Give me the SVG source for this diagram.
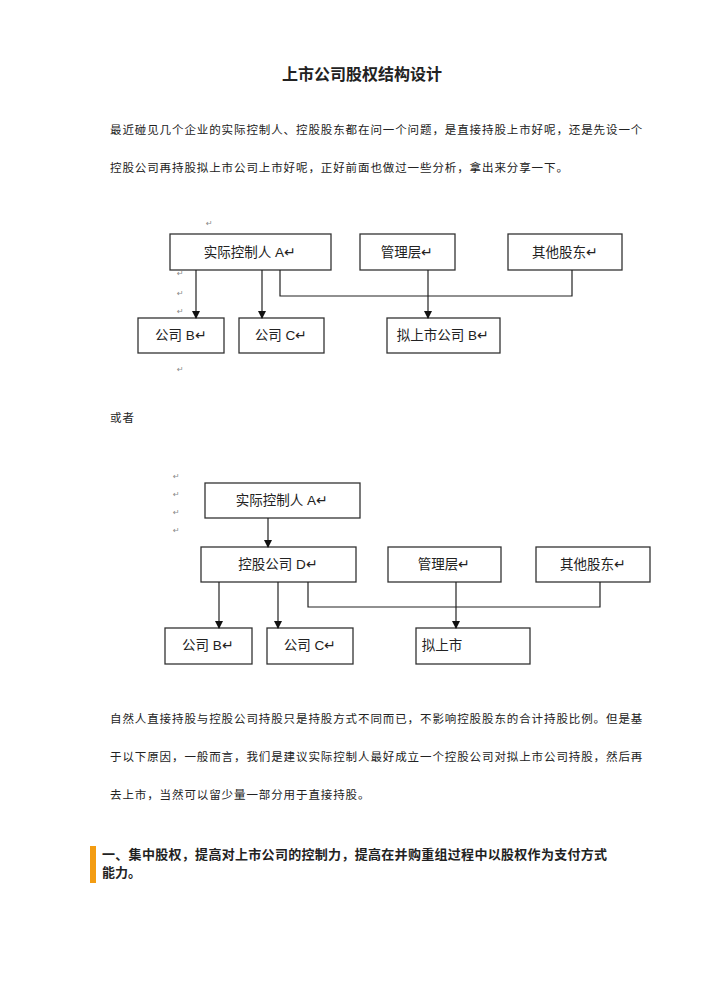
<svg xmlns="http://www.w3.org/2000/svg" width="725" height="990" viewBox="0 0 725 990">
<style>
.t{font-family:"Liberation Sans","Noto Sans CJK SC",sans-serif;fill:#222}
.p{font-size:11.5px;letter-spacing:0.9px}
.n{font-size:13.5px;text-anchor:middle}
.r{font-family:"DejaVu Sans",sans-serif;font-size:8px;fill:#888}
.b{fill:#fff;stroke:#333;stroke-width:1.3}
.c{fill:none;stroke:#222;stroke-width:1.2}
</style>
<defs><marker id="ah" markerWidth="8" markerHeight="8" refX="7" refY="4" orient="auto" markerUnits="userSpaceOnUse"><path d="M0,0L8,4L0,8Z" fill="#111"/></marker></defs>
<rect width="725" height="990" fill="#fff"/>
<text class="t" x="362" y="80" font-size="16" font-weight="bold" text-anchor="middle">上市公司股权结构设计</text>
<text class="t p" x="110" y="134">最近碰见几个企业的实际控制人、控股股东都在问一个问题，是直接持股上市好呢，还是先设一个</text>
<text class="t p" x="110" y="172">控股公司再持股拟上市公司上市好呢，正好前面也做过一些分析，拿出来分享一下。</text>
<g id="d1">
<text class="r" x="206" y="226">↵</text><text class="r" x="177" y="276">↵</text><text class="r" x="177" y="296">↵</text><text class="r" x="177" y="314">↵</text><text class="r" x="177" y="372">↵</text>
<g id="a1"><rect class="b" x="170" y="234" width="161" height="36"/><text class="t n" x="250" y="257">实际控制人 A↵</text></g>
<g id="m1"><rect class="b" x="360" y="234" width="95" height="36"/><text class="t n" x="407" y="257">管理层↵</text></g>
<g id="o1"><rect class="b" x="508" y="234" width="114" height="36"/><text class="t n" x="565" y="257">其他股东↵</text></g>
<g id="b1"><rect class="b" x="138" y="318" width="86" height="35"/><text class="t n" x="181" y="340">公司 B↵</text></g>
<g id="c1"><rect class="b" x="239" y="318" width="85" height="35"/><text class="t n" x="281" y="340">公司 C↵</text></g>
<g id="l1"><rect class="b" x="387" y="318" width="113" height="35"/><text class="t n" x="443" y="340">拟上市公司 B↵</text></g>
<g id="e1">
<line class="c" x1="196" y1="270" x2="196" y2="318" marker-end="url(#ah)"/>
<line class="c" x1="262" y1="270" x2="262" y2="318" marker-end="url(#ah)"/>
<line class="c" x1="428" y1="270" x2="428" y2="318" marker-end="url(#ah)"/>
<polyline class="c" points="280,270 280,296 572,296 572,270"/>
</g>
</g>
<text class="t p" x="110" y="422">或者</text>
<g id="d2">
<text class="r" x="173" y="479">↵</text><text class="r" x="173" y="497">↵</text><text class="r" x="173" y="515">↵</text><text class="r" x="173" y="533">↵</text>
<g id="a2"><rect class="b" x="205" y="483" width="155" height="35"/><text class="t n" x="282" y="505">实际控制人 A↵</text></g>
<g id="dd"><rect class="b" x="201" y="547" width="155" height="35"/><text class="t n" x="278" y="569">控股公司 D↵</text></g>
<g id="m2"><rect class="b" x="388" y="547" width="113" height="35"/><text class="t n" x="444" y="569">管理层↵</text></g>
<g id="o2"><rect class="b" x="536" y="547" width="114" height="35"/><text class="t n" x="593" y="569">其他股东↵</text></g>
<g id="b2"><rect class="b" x="165" y="628" width="87" height="36"/><text class="t n" x="208" y="650">公司 B↵</text></g>
<g id="c2"><rect class="b" x="267" y="628" width="86" height="36"/><text class="t n" x="310" y="650">公司 C↵</text></g>
<g id="l2"><rect class="b" x="416" y="628" width="114" height="36"/><text class="t n" x="442" y="650">拟上市</text></g>
<g id="e2">
<line class="c" x1="268" y1="518" x2="268" y2="547" marker-end="url(#ah)"/>
<line class="c" x1="219" y1="582" x2="219" y2="628" marker-end="url(#ah)"/>
<line class="c" x1="278" y1="582" x2="278" y2="628" marker-end="url(#ah)"/>
<line class="c" x1="456" y1="582" x2="456" y2="628" marker-end="url(#ah)"/>
<polyline class="c" points="308,582 308,607 600,607 600,582"/>
</g>
</g>
<text class="t p" x="110" y="723">自然人直接持股与控股公司持股只是持股方式不同而已，不影响控股股东的合计持股比例。但是基</text>
<text class="t p" x="110" y="761">于以下原因，一般而言，我们是建议实际控制人最好成立一个控股公司对拟上市公司持股，然后再</text>
<text class="t p" x="110" y="799">去上市，当然可以留少量一部分用于直接持股。</text>
<rect x="90" y="846" width="6" height="37" fill="#f39c12"/>
<text class="t" x="102" y="859" font-size="13" font-weight="bold" letter-spacing="0.3">一、集中股权，提高对上市公司的控制力，提高在并购重组过程中以股权作为支付方式</text>
<text class="t" x="102" y="877" font-size="13" font-weight="bold">能力。</text>
</svg>
